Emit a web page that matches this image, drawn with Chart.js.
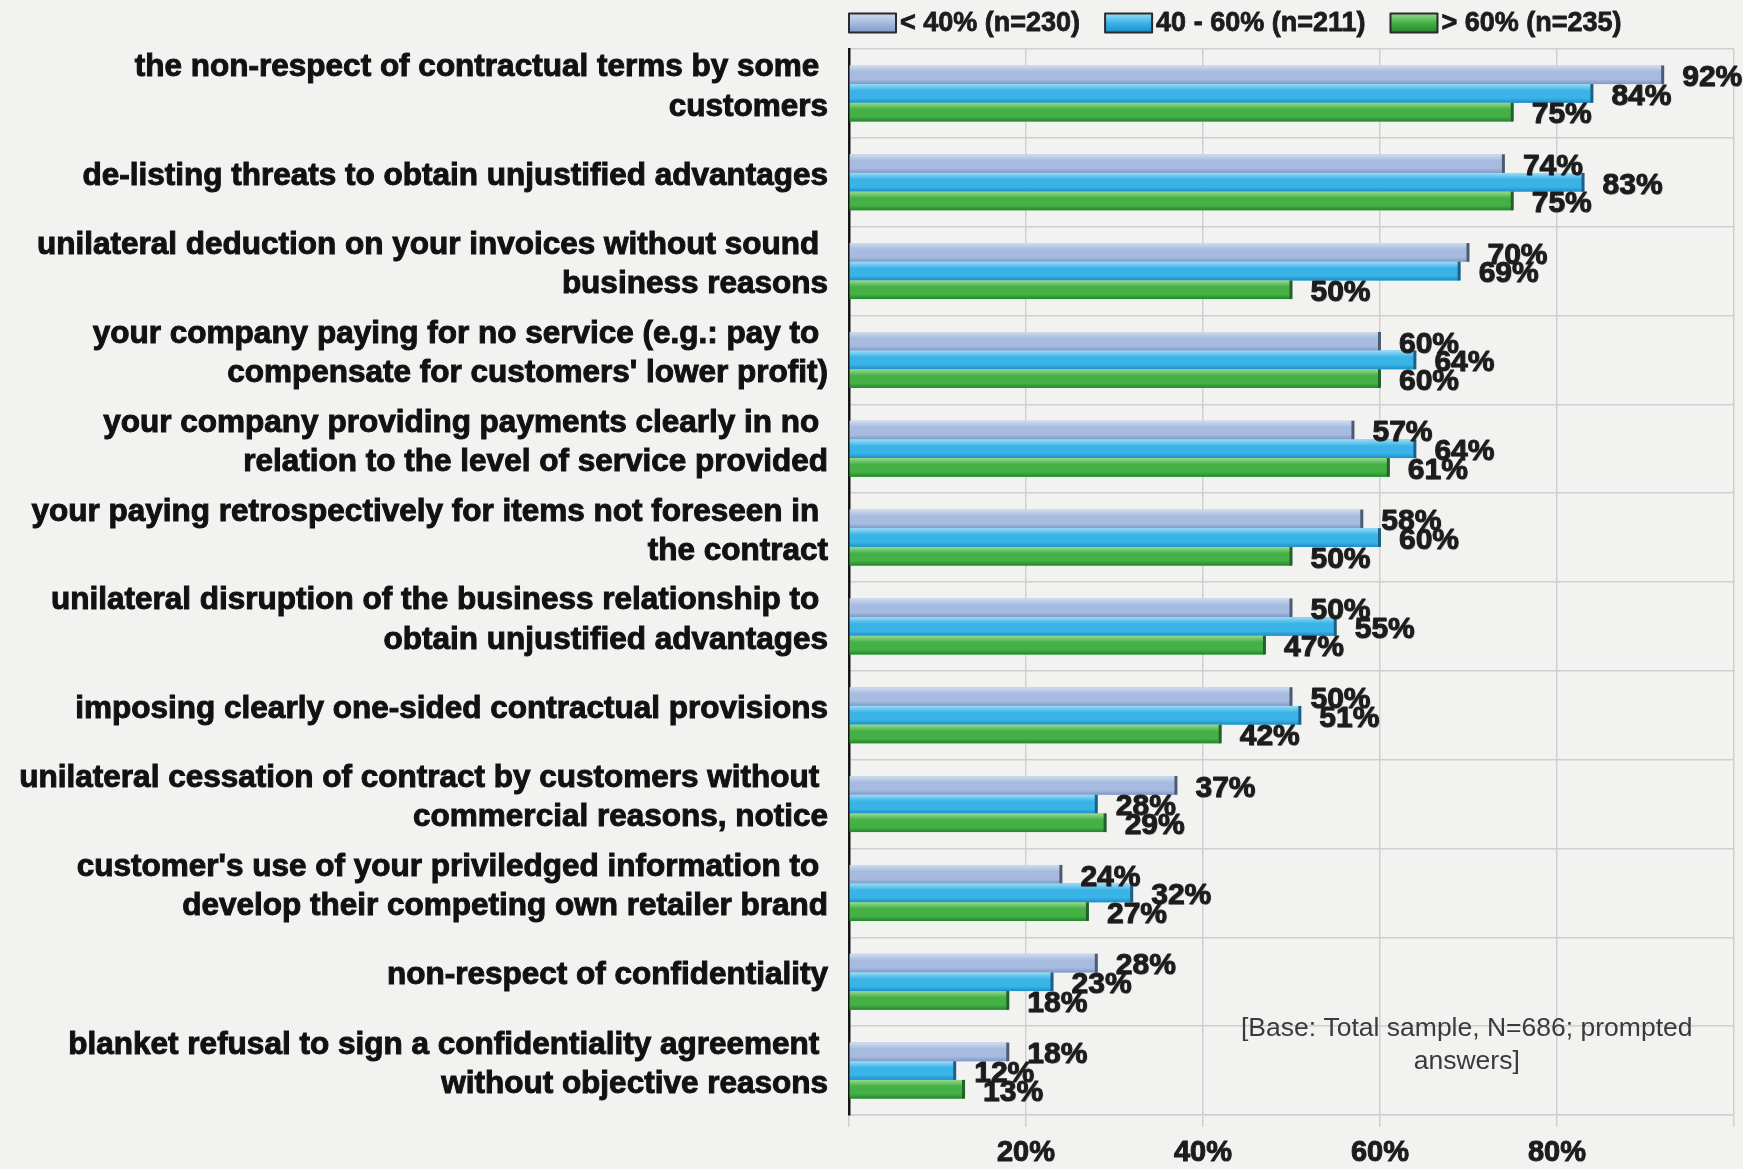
<!DOCTYPE html>
<html>
<head>
<meta charset="utf-8">
<script src="https://cdn.jsdelivr.net/npm/chart.js@4.4.1/dist/chart.umd.min.js"></script>
<style>
  html, body { margin: 0; padding: 0; background: #f2f2f0; }
  #wrap { width: 1743px; height: 1169px; position: relative; }
  canvas { display: block; }
</style>
</head>
<body>
<div id="wrap"><canvas id="chart" width="1743" height="1169"></canvas></div>
<script>
// Problems reported by suppliers, split by share of turnover with the main customers
const categories = [
  ['the non-respect of contractual terms by some ', 'customers'],
  'de-listing threats to obtain unjustified advantages',
  ['unilateral deduction on your invoices without sound ', 'business reasons'],
  ['your company paying for no service (e.g.: pay to ', "compensate for customers' lower profit)"],
  ['your company providing payments clearly in no ', 'relation to the level of service provided'],
  ['your paying retrospectively for items not foreseen in ', 'the contract'],
  ['unilateral disruption of the business relationship to ', 'obtain unjustified advantages'],
  'imposing clearly one-sided contractual provisions',
  ['unilateral cessation of contract by customers without ', 'commercial reasons, notice'],
  ["customer's use of your priviledged information to ", 'develop their competing own retailer brand'],
  'non-respect of confidentiality',
  ['blanket refusal to sign a confidentiality agreement ', 'without objective reasons']
];

const seriesNames = ['< 40% (n=230)', '40 - 60% (n=211)', '> 60% (n=235)'];

const shareBelow40 = [92, 74, 70, 60, 57, 58, 50, 50, 37, 24, 28, 18];
const share40to60  = [84, 83, 69, 64, 64, 60, 55, 51, 28, 32, 23, 12];
const shareAbove60 = [75, 75, 50, 60, 61, 50, 47, 42, 29, 27, 18, 13];

const xTickValues = [20, 40, 60, 80];

const footnoteLines = ['[Base: Total sample, N=686; prompted', 'answers]'];

// shading for each series: top highlight, body, bottom shadow, end cap
const palettes = [
  { top: '#d0dcef', mid: '#a6bbdf', bottom: '#7f98c6', edge: '#4d5b72' },
  { top: '#9adcf7', mid: '#3ab3e7', bottom: '#1b8fc8', edge: '#1d5f86' },
  { top: '#98d98f', mid: '#44b046', bottom: '#23862c', edge: '#24612a' }
];

const LABEL_FONT = '"Liberation Sans", Arial, sans-serif';

// Re-paints every bar with a vertical gradient and a dark end cap, then writes the values
const barFinish = {
  id: 'barFinish',
  afterDatasetsDraw(chart) {
    const ctx = chart.ctx;
    ctx.save();
    chart.data.datasets.forEach((ds, di) => {
      const meta = chart.getDatasetMeta(di);
      const pal = palettes[di];
      meta.data.forEach((bar) => {
        const p = bar.getProps(['x', 'y', 'base', 'height'], true);
        const top = p.y - p.height / 2;
        const g = ctx.createLinearGradient(0, top, 0, top + p.height);
        g.addColorStop(0, pal.top);
        g.addColorStop(0.35, pal.mid);
        g.addColorStop(0.75, pal.mid);
        g.addColorStop(1, pal.bottom);
        ctx.fillStyle = g;
        ctx.fillRect(p.base, top, p.x - p.base, p.height);
        ctx.fillStyle = pal.edge;
        ctx.fillRect(p.x - 2, top, 3, p.height);
      });
    });
    ctx.font = 'bold 30px ' + LABEL_FONT;
    ctx.textAlign = 'left';
    ctx.textBaseline = 'middle';
    ctx.lineJoin = 'round';
    chart.data.datasets.forEach((ds, di) => {
      const meta = chart.getDatasetMeta(di);
      meta.data.forEach((bar, i) => {
        const p = bar.getProps(['x', 'y'], true);
        const txt = ds.data[i] + '%';
        ctx.fillStyle = 'rgba(0,0,0,0.18)';
        ctx.fillText(txt, p.x + 20, p.y + 4);
        ctx.strokeStyle = '#1c1c1c';
        ctx.lineWidth = 1;
        ctx.strokeText(txt, p.x + 19, p.y + 3);
        ctx.fillStyle = '#1c1c1c';
        ctx.fillText(txt, p.x + 19, p.y + 3);
      });
    });
    ctx.restore();
  }
};

// Legend row above the plot, starting at the value axis
const topLegend = {
  id: 'topLegend',
  afterDraw(chart) {
    const ctx = chart.ctx;
    const area = chart.chartArea;
    ctx.save();
    ctx.font = 'bold 27px ' + LABEL_FONT;
    ctx.textBaseline = 'middle';
    ctx.textAlign = 'left';
    ctx.lineJoin = 'round';
    let x = area.left;
    const cy = area.top - 26;
    const bw = 47, bh = 19;
    chart.data.datasets.forEach((ds, di) => {
      const pal = palettes[di];
      const g = ctx.createLinearGradient(0, cy - bh / 2, 0, cy + bh / 2);
      g.addColorStop(0, pal.top);
      g.addColorStop(0.5, pal.mid);
      g.addColorStop(1, pal.bottom);
      ctx.fillStyle = g;
      ctx.fillRect(x, cy - bh / 2, bw, bh);
      ctx.strokeStyle = '#2a2a2a';
      ctx.lineWidth = 2;
      ctx.strokeRect(x, cy - bh / 2, bw, bh);
      x += bw + 4;
      ctx.fillStyle = '#1c1c1c';
      ctx.strokeStyle = '#1c1c1c';
      ctx.lineWidth = 0.8;
      ctx.strokeText(ds.label, x, cy + 1);
      ctx.fillText(ds.label, x, cy + 1);
      x += ctx.measureText(ds.label).width + 25;
    });
    ctx.restore();
  }
};

// Sample note in the lower right of the plot
const sampleNote = {
  id: 'sampleNote',
  afterDraw(chart) {
    const ctx = chart.ctx;
    const xs = chart.scales.x;
    const area = chart.chartArea;
    ctx.save();
    ctx.font = '26.5px ' + LABEL_FONT;
    ctx.fillStyle = '#3a3a3a';
    ctx.textAlign = 'center';
    ctx.textBaseline = 'middle';
    const cx = xs.getPixelForValue(69.8);
    footnoteLines.forEach((line, i) => {
      ctx.fillText(line, cx, area.bottom - 86 + i * 33);
    });
    ctx.restore();
  }
};

new Chart(document.getElementById('chart'), {
  type: 'bar',
  data: {
    labels: categories,
    datasets: [
      { label: seriesNames[0], data: shareBelow40, backgroundColor: palettes[0].mid },
      { label: seriesNames[1], data: share40to60, backgroundColor: palettes[1].mid },
      { label: seriesNames[2], data: shareAbove60, backgroundColor: palettes[2].mid }
    ]
  },
  options: {
    indexAxis: 'y',
    responsive: false,
    animation: false,
    devicePixelRatio: 1,
    layout: { padding: { top: 49, right: 9, bottom: 0, left: 0 } },
    datasets: { bar: { categoryPercentage: 0.63, barPercentage: 1.0, borderWidth: 0 } },
    plugins: {
      legend: { display: false },
      tooltip: { enabled: false }
    },
    scales: {
      x: {
        min: 0,
        max: 100,
        afterBuildTicks(scale) {
          scale.ticks = [0, ...xTickValues, 100].map(v => ({ value: v }));
        },
        afterFit(scale) {
          scale.height = 54;
          scale.paddingLeft = 0;
          scale.paddingRight = 0;
        },
        grid: { color: '#cfcfcf', lineWidth: 1.5, tickLength: 12, drawTicks: true },
        border: { display: true, color: '#cfcfcf', width: 1.5 },
        ticks: {
          padding: 9,
          color: '#1c1c1c',
          textStrokeColor: '#1c1c1c',
          textStrokeWidth: 1,
          font: { family: LABEL_FONT, size: 29, weight: 'bold' },
          callback: (v) => xTickValues.includes(v) ? v + '%' : ''
        }
      },
      y: {
        afterFit(scale) {
          scale.width = 849;
          scale.paddingTop = 0;
          scale.paddingBottom = 0;
        },
        grid: { color: '#cfcfcf', lineWidth: 1.5, drawTicks: false, offset: true },
        border: { display: true, color: '#151515', width: 2.5 },
        ticks: {
          padding: 21,
          labelOffset: -6,
          color: '#111111',
          textStrokeColor: '#111111',
          textStrokeWidth: 1,
          font: { family: LABEL_FONT, size: 31.5, weight: 'bold', lineHeight: 1.25 }
        }
      }
    }
  },
  plugins: [barFinish, topLegend, sampleNote]
});
</script>
</body>
</html>
